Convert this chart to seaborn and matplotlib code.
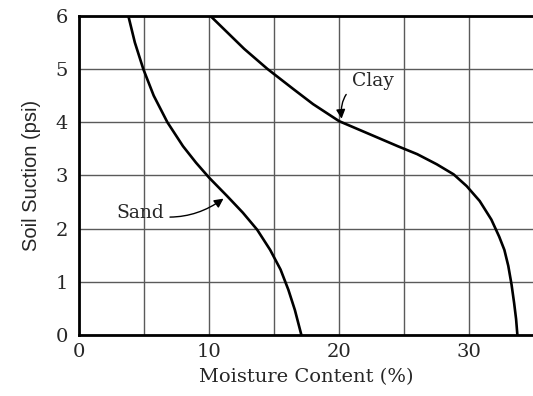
import matplotlib
matplotlib.use("Agg")
import matplotlib.pyplot as plt
import seaborn as sns
import pandas as pd

sand_moisture = [3.8, 4.3, 4.95, 5.75, 6.8, 8.0, 9.0, 10.0, 11.4, 12.6, 13.7, 14.7, 15.5, 16.1, 16.6, 17.1]
sand_suction = [6.0, 5.5, 5.0, 4.5, 4.0, 3.55, 3.24, 2.96, 2.61, 2.30, 1.98, 1.60, 1.23, 0.85, 0.47, 0.0]

clay_moisture = [10.1, 11.4, 12.7, 14.5, 16.5, 18.0, 20.0, 22.3, 24.5, 26.0, 27.5, 28.8,
                 29.8, 30.8, 31.7, 32.3, 32.7, 33.0, 33.25, 33.45, 33.6, 33.7]
clay_suction = [6.0, 5.69, 5.38, 5.0, 4.62, 4.34, 4.02, 3.78, 3.55, 3.40, 3.21, 3.02,
                2.80, 2.52, 2.17, 1.85, 1.60, 1.30, 0.95, 0.6, 0.3, 0.0]

x_ticks = [0, 10, 20, 30]
y_ticks = [0, 1, 2, 3, 4, 5, 6]

sand = pd.DataFrame({"moisture": sand_moisture, "suction": sand_suction})
clay = pd.DataFrame({"moisture": clay_moisture, "suction": clay_suction})

sns.set_style("white")
plt.rcParams["font.family"] = ["DejaVu Serif"]

fig = plt.figure(figsize=(5.33, 3.96), dpi=100)
ax = fig.add_axes([0.148, 0.154, 0.852, 0.806])

sns.lineplot(data=sand, x="moisture", y="suction", sort=False, estimator=None,
             color="black", linewidth=1.9, ax=ax)
sns.lineplot(data=clay, x="moisture", y="suction", sort=False, estimator=None,
             color="black", linewidth=1.9, ax=ax)

ax.set_xlim(0, 34.9)
ax.set_ylim(0, 6)
ax.set_xticks(range(0, 35, 5))
ax.set_xticklabels([str(v) if v in x_ticks else "" for v in range(0, 35, 5)])
ax.set_yticks(y_ticks)
ax.set_yticklabels([str(v) for v in y_ticks])
ax.grid(True, color="#5a5a5a", linewidth=1.0)
ax.set_axisbelow(True)
ax.tick_params(length=0, labelsize=14)
ax.tick_params(axis="y", pad=8)
ax.tick_params(axis="x", pad=6)

for side in ["left", "bottom", "top"]:
    ax.spines[side].set_color("black")
    ax.spines[side].set_linewidth(2.0)
ax.spines["right"].set_visible(False)

ax.set_xlabel("Moisture Content (%)", fontsize=14, labelpad=5)
ax.set_ylabel("Soil Suction (psi)", fontsize=14.5, labelpad=10,
              family=["Liberation Sans"])

ax.annotate("Sand", xy=(11.2, 2.58), xytext=(4.7, 2.3), fontsize=13.5,
            ha="center", va="center",
            arrowprops=dict(arrowstyle="-|>,head_length=0.4,head_width=0.2",
                            color="black", lw=1.0,
                            connectionstyle="arc3,rad=0.25", shrinkA=2, shrinkB=1))
ax.annotate("Clay", xy=(20.2, 4.04), xytext=(22.6, 4.78), fontsize=13.5,
            ha="center", va="center",
            arrowprops=dict(arrowstyle="-|>,head_length=0.4,head_width=0.2",
                            color="black", lw=1.0,
                            connectionstyle="arc3,rad=0.5", shrinkA=3, shrinkB=1))

fig.savefig("out.png", dpi=100)
plt.close(fig)
